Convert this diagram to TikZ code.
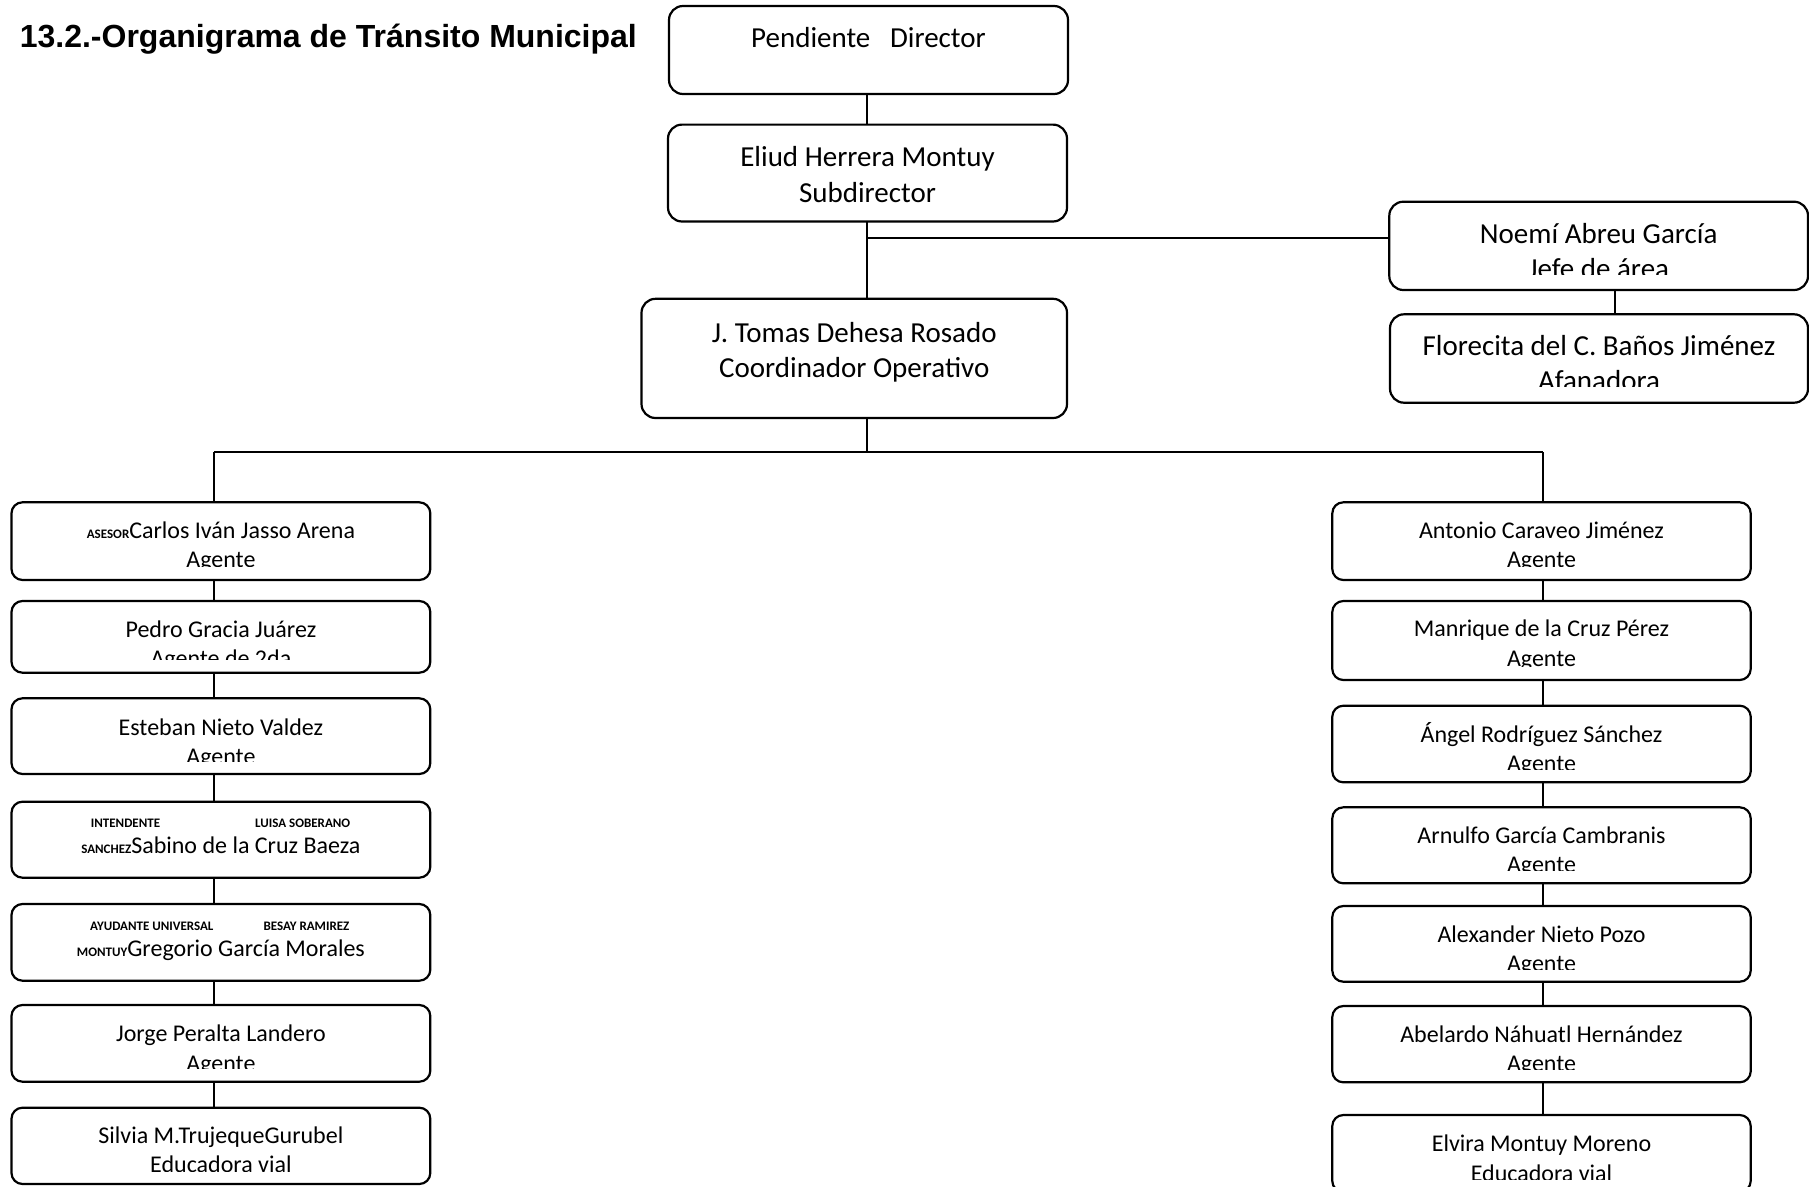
\documentclass[tikz,border=0pt]{standalone}
\usepackage{fontspec}
\setmainfont{Carlito}
\newfontfamily\titlefont{Liberation Sans}
\tikzset{
  sbox/.style={draw, line width=2.2pt, rounded corners=11pt, inner sep=0pt, outer sep=0pt},
  bbox/.style={draw, line width=2.2pt, rounded corners=14pt, inner sep=0pt, outer sep=0pt},
  txt/.style={inner sep=0pt, font=\fontsize{24}{29}\selectfont},
  tiny/.style={inner sep=0pt, anchor=base west, font=\fontsize{13}{13}\selectfont\bfseries},
  conn/.style={draw, line width=2pt}
}
\def\lsk{29.3}
\def\bx{sbox}
\newcommand\pre[1]{{\fontsize{13}{13}\selectfont\bfseries #1}}
% name, left, top, right, bottom, baseline1, clip y, line1, line2
\newcommand\obox[9]{%
  \node[\bx, minimum width={#4pt-#2pt}, minimum height={#5pt-#3pt}] (#1) at ({(#2+#4)/2},{(#3+#5)/2}) {};
  \begin{scope}
    \clip (#2,#3) rectangle (#4,#7);
    \node[txt, anchor=base] (#1-a) at ({(#2+#4)/2},#6) {#8};
    \node[txt, anchor=base] (#1-b) at ({(#2+#4)/2},{#6+\lsk}) {#9};
  \end{scope}}
\begin{document}
\begin{tikzpicture}[x=1pt,y=-1pt]
\useasboundingbox[fill=white] (0,0) rectangle (1809,1186);

\node[anchor=base west, inner sep=0pt, font=\titlefont\bfseries\fontsize{32}{38}\selectfont] (title) at (19.6,47) {13.2.-Organigrama de Tránsito Municipal};

% big boxes
\def\lsk{35.4}
\def\bx{bbox}
\tikzset{txt/.style={inner sep=0pt, font=\fontsize{29}{35}\selectfont}}
\obox{dir}{669}{6}{1068}{94}{47.7}{94}{Pendiente\ \ \ Director}{}
\obox{sub}{668}{124.6}{1067}{221.5}{166.7}{221.5}{Eliud Herrera Montuy}{Subdirector}
\obox{coo}{641.5}{298.8}{1067}{418}{342.3}{418}{J. Tomas Dehesa Rosado}{Coordinador Operativo}
\obox{noe}{1389.3}{201.7}{1808}{290}{243.3}{274.7}{Noemí Abreu García}{Jefe de área}
\obox{flo}{1390}{314.3}{1808}{402.7}{355}{386.4}{Florecita del C. Baños Jiménez}{Afanadora}

% small boxes
\def\lsk{29.3}
\def\bx{sbox}
\tikzset{txt/.style={inner sep=0pt, font=\fontsize{24}{29}\selectfont}}
\obox{l1}{11.5}{502.3}{430.3}{580}{538.3}{566.5}{\pre{ASESOR}Carlos Iván Jasso Arena}{Agente}
\obox{l2}{11.5}{601}{430.3}{672.7}{637}{659.3}{Pedro Gracia Juárez}{Agente de 2da}
\obox{l3}{11.5}{698.3}{430.3}{774}{735}{761.7}{Esteban Nieto Valdez}{Agente}
\obox{l4}{11.5}{801.7}{430.3}{877.7}{853.3}{877.7}{\pre{SANCHEZ}Sabino de la Cruz Baeza}{}
\obox{l5}{11.5}{904}{430.3}{980.7}{956}{980.7}{\pre{MONTUY}Gregorio García Morales}{}
\obox{l6}{11.5}{1005}{430.3}{1081.7}{1041.7}{1068}{Jorge Peralta Landero}{Agente}
\obox{l7}{11.5}{1107.7}{430.3}{1184}{1143.3}{1171.3}{Silvia M.TrujequeGurubel}{Educadora vial}

\node[tiny] (l4-p) at (90.7,827.7) {INTENDENTE};
\node[tiny] (l4-q) at (255,827.7) {LUISA SOBERANO};
\node[tiny] (l5-p) at (90,930) {AYUDANTE UNIVERSAL};
\node[tiny] (l5-q) at (263.3,930) {BESAY RAMIREZ};

\obox{r1}{1332.3}{502.3}{1750.7}{580}{538.3}{566.5}{Antonio Caraveo Jiménez}{Agente}
\obox{r2}{1332.3}{601}{1750.7}{680}{636.7}{666.5}{Manrique de la Cruz Pérez}{Agente}
\obox{r3}{1332.3}{705.7}{1750.7}{782.3}{742.3}{769.3}{Ángel Rodríguez Sánchez}{Agente}
\obox{r4}{1332.3}{807.3}{1750.7}{883.3}{843.3}{870.5}{Arnulfo García Cambranis}{Agente}
\obox{r5}{1332.3}{906}{1750.7}{981.7}{942.3}{969.3}{Alexander Nieto Pozo}{Agente}
\obox{r6}{1332.3}{1006}{1750.7}{1082.3}{1042.3}{1069.3}{Abelardo Náhuatl Hernández}{Agente}
\obox{r7}{1332.3}{1115}{1750.7}{1192}{1151.7}{1179.5}{Elvira Montuy Moreno}{Educadora vial}

% connector guide coordinates
\coordinate (cx) at (867,0);
\coordinate (lx) at (214,0);
\coordinate (rx) at (1542.5,0);
\coordinate (nx) at (1615,0);
\coordinate (hy) at (0,452.3);
\coordinate (by) at (0,237.5);

\draw[conn] (dir.south -| cx) -- (sub.north -| cx);
\draw[conn] (sub.south -| cx) -- (coo.north -| cx);
\draw[conn] (cx |- by) -- (noe.west |- by);
\draw[conn] (noe.south -| nx) -- (flo.north -| nx);
\draw[conn] (coo.south -| cx) -- (cx |- hy);
\draw[conn] (lx |- hy) -- (rx |- hy);
\draw[conn] (lx |- hy) -- (l1.north -| lx);
\draw[conn] (rx |- hy) -- (r1.north -| rx);
\foreach \a/\b in {l1/l2,l2/l3,l3/l4,l4/l5,l5/l6,l6/l7}{
  \draw[conn] (\a.south -| lx) -- (\b.north -| lx);
}
\foreach \a/\b in {r1/r2,r2/r3,r3/r4,r4/r5,r5/r6,r6/r7}{
  \draw[conn] (\a.south -| rx) -- (\b.north -| rx);
}
\end{tikzpicture}
\end{document}
